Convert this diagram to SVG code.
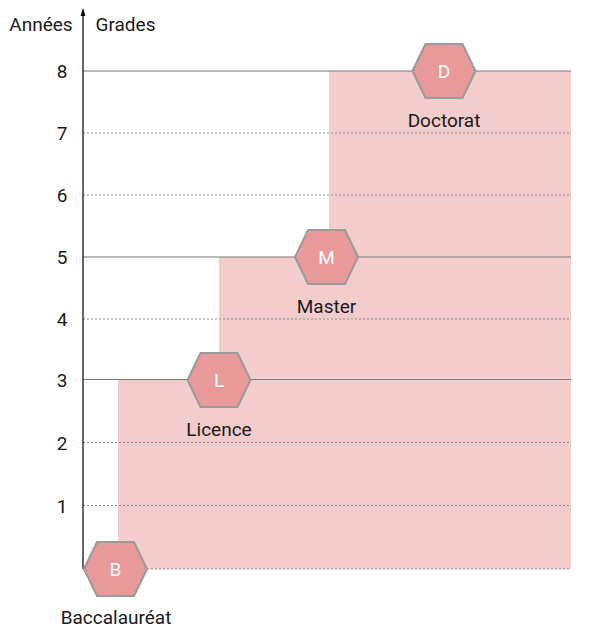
<svg xmlns="http://www.w3.org/2000/svg" width="609" height="642" viewBox="0 0 609 642">
<defs>
<style>
text{font-family:Roboto,"Liberation Sans",sans-serif;font-size:19px;fill:#1a1a1a}
.num{text-anchor:end}
.lbl{text-anchor:middle}
.hl{text-anchor:middle;fill:#ffffff}
.solid{stroke:#7a7a7a;stroke-width:1.2;fill:none}
.dot{stroke:#8a8a8a;stroke-width:1.2;stroke-dasharray:2 2;fill:none}
.hex{fill:#e8999a;stroke:#9a9a9a;stroke-width:2}
</style>
<polygon id="hexshape" points="-31.5,0 -18.5,-27 18.5,-27 31.5,0 18.5,27 -18.5,27"/>
<marker id="arr" markerWidth="8" markerHeight="8" refX="1" refY="4" orient="auto" markerUnits="userSpaceOnUse" viewBox="0 0 8 8">
<path d="M0,1.6 L8,4 L0,6.4 Z" fill="#000"/>
</marker>
</defs>
<rect width="609" height="642" fill="#fff"/>
<polygon points="118,569 118,379.5 219,379.5 219,257 329,257 329,71 571,71 571,569" fill="#f3cccc"/>
<g id="grid">
<line class="solid" x1="83" y1="71" x2="571" y2="71"/>
<line class="dot" x1="83" y1="133" x2="571" y2="133"/>
<line class="dot" x1="83" y1="195" x2="571" y2="195"/>
<line class="solid" x1="83" y1="257" x2="571" y2="257"/>
<line class="dot" x1="83" y1="319" x2="571" y2="319"/>
<line class="solid" x1="83" y1="379.5" x2="571" y2="379.5"/>
<line class="dot" x1="83" y1="442.5" x2="571" y2="442.5"/>
<line class="dot" x1="83" y1="505.5" x2="571" y2="505.5"/>
<line class="dot" x1="83" y1="569" x2="571" y2="569"/>
</g>
<g id="connectors">
<line x1="83" y1="569" x2="83" y2="15" stroke="#000" stroke-width="1.2" marker-end="url(#arr)"/>
</g>
<g id="axis-labels">
<text x="41" y="31" class="lbl">Années</text>
<text x="125.5" y="31" class="lbl">Grades</text>
<text x="67.5" y="78" class="num">8</text>
<text x="67.5" y="140" class="num">7</text>
<text x="67.5" y="202" class="num">6</text>
<text x="67.5" y="264" class="num">5</text>
<text x="67.5" y="326" class="num">4</text>
<text x="67.5" y="386.5" class="num">3</text>
<text x="67.5" y="449.5" class="num">2</text>
<text x="67.5" y="512.5" class="num">1</text>
</g>
<g id="node-B">
<use href="#hexshape" class="hex" x="115.5" y="569"/>
<text x="115.5" y="575.5" class="hl">B</text>
<text x="116" y="624" class="lbl">Baccalauréat</text>
</g>
<g id="node-L">
<use href="#hexshape" class="hex" x="219" y="380"/>
<text x="219" y="386.5" class="hl">L</text>
<text x="219" y="436" class="lbl">Licence</text>
</g>
<g id="node-M">
<use href="#hexshape" class="hex" x="326.5" y="257"/>
<text x="326.5" y="263.5" class="hl">M</text>
<text x="326.5" y="313" class="lbl">Master</text>
</g>
<g id="node-D">
<use href="#hexshape" class="hex" x="444" y="71"/>
<text x="444" y="77.5" class="hl">D</text>
<text x="444" y="127" class="lbl">Doctorat</text>
</g>
</svg>
